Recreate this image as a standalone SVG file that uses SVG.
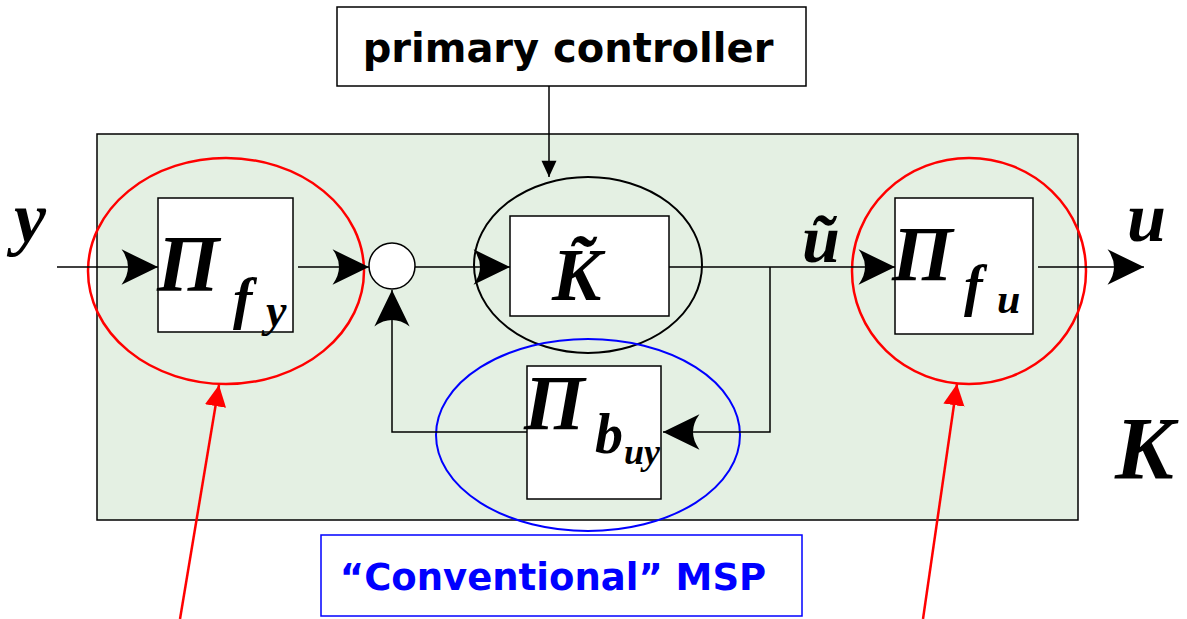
<svg xmlns="http://www.w3.org/2000/svg" width="1187" height="619" viewBox="0 0 1187 619">
<style>
.box{fill:#fff;stroke:#000;stroke-width:1.5}
.ln{fill:none;stroke:#000;stroke-width:1.5}
.m{font-family:"Liberation Serif",serif;font-weight:bold;font-style:italic;fill:#000}
.red{fill:none;stroke:#f00;stroke-width:2.5}
</style>
<defs>
<marker id="ah2" markerUnits="userSpaceOnUse" markerWidth="40" markerHeight="40" viewBox="-32 -17 34 34" refX="0" refY="0" orient="auto">
<path d="M0,0 L-31,-15 Q-20,0 -31,15 Z" fill="#000"/>
</marker>
<marker id="tri" markerUnits="userSpaceOnUse" markerWidth="20" markerHeight="20" viewBox="-14 -8 16 16" refX="0" refY="0" orient="auto">
<path d="M0,0 L-13,-6 L-13,6 Z" fill="#000"/>
</marker>
<marker id="rtri" markerUnits="userSpaceOnUse" markerWidth="24" markerHeight="24" viewBox="-16 -9 18 18" refX="0" refY="0" orient="auto">
<path d="M0,0 L-16,-8 L-16,8 Z" fill="#f00"/>
</marker>
</defs>
<rect width="1187" height="619" fill="#fff"/>
<g id="K-block">
<rect x="97" y="134" width="981" height="386" fill="#e4f0e3" stroke="#000" stroke-width="1.5"/>
<text class="m" x="1115" y="478" font-size="88">K</text>
</g>
<g id="primary">
<rect x="337" y="7" width="469" height="79" fill="#fff" stroke="#000" stroke-width="1.5"/>
<text x="568" y="62" font-family="'Comic Sans MS','DejaVu Sans',sans-serif" font-weight="bold" font-size="40" text-anchor="middle" fill="#000">primary controller</text>
</g>
<g id="ellipses">
<ellipse cx="588" cy="265" rx="114" ry="88" fill="none" stroke="#000" stroke-width="2"/>
<ellipse cx="588" cy="435" rx="152" ry="96" fill="none" stroke="#00f" stroke-width="2"/>
<ellipse cx="226" cy="271" rx="138" ry="113" class="red"/>
<ellipse cx="969" cy="271" rx="117" ry="113" class="red"/>
</g>
<g id="connectors">
<line class="ln" x1="549" y1="86" x2="549" y2="177" marker-end="url(#tri)"/>
<line class="ln" x1="57" y1="267" x2="158" y2="267" marker-end="url(#ah2)"/>
<line class="ln" x1="298" y1="267" x2="369" y2="267" marker-end="url(#ah2)"/>
<line class="ln" x1="415" y1="267" x2="510" y2="267" marker-end="url(#ah2)"/>
<line class="ln" x1="669" y1="267" x2="895" y2="267" marker-end="url(#ah2)"/>
<line class="ln" x1="1038" y1="267" x2="1144" y2="267" marker-end="url(#ah2)"/>
<polyline class="ln" points="770,267 770,432 663,432" marker-end="url(#ah2)"/>
<polyline class="ln" points="527,432 392,432 392,290" marker-end="url(#ah2)"/>
<line x1="180" y1="619" x2="219" y2="385" stroke="#f00" stroke-width="2.5" marker-end="url(#rtri)"/>
<line x1="923" y1="619" x2="957" y2="384" stroke="#f00" stroke-width="2.5" marker-end="url(#rtri)"/>
</g>
<g id="sum">
<circle cx="392" cy="266" r="23" class="box"/>
</g>
<g id="Pi_fy">
<rect x="158" y="198" width="135" height="134" class="box"/>
<text class="m" x="157" y="291" font-size="80">Π</text>
<text class="m" x="233" y="318" font-size="58">f</text>
<text class="m" x="266" y="326" font-size="46">y</text>
</g>
<g id="Ktilde">
<rect x="510" y="216" width="159" height="100" class="box"/>
<text class="m" x="552" y="300" font-size="74">K&#x303;</text>
</g>
<g id="Pi_buy">
<rect x="527" y="366" width="134" height="133" class="box"/>
<text class="m" x="524" y="429" font-size="78">Π</text>
<text class="m" x="595" y="453" font-size="56">b</text>
<text class="m" x="624" y="464" font-size="36">uy</text>
</g>
<g id="Pi_fu">
<rect x="895" y="198" width="138" height="136" class="box"/>
<text class="m" x="892" y="280" font-size="78">Π</text>
<text class="m" x="964" y="305" font-size="56">f</text>
<text class="m" x="997" y="313" font-size="42">u</text>
</g>
<g id="labels">
<text class="m" x="14" y="242" font-size="72">y</text>
<text class="m" x="802" y="262" font-size="68">ũ</text>
<text class="m" x="1127" y="241" font-size="70">u</text>
</g>
<g id="msp">
<rect x="321" y="535" width="481" height="81" fill="#fff" stroke="#00f" stroke-width="1.5"/>
<text x="553" y="590" font-family="'Comic Sans MS','DejaVu Sans',sans-serif" font-weight="bold" font-size="37" text-anchor="middle" fill="#00f">“Conventional” MSP</text>
</g>
</svg>
